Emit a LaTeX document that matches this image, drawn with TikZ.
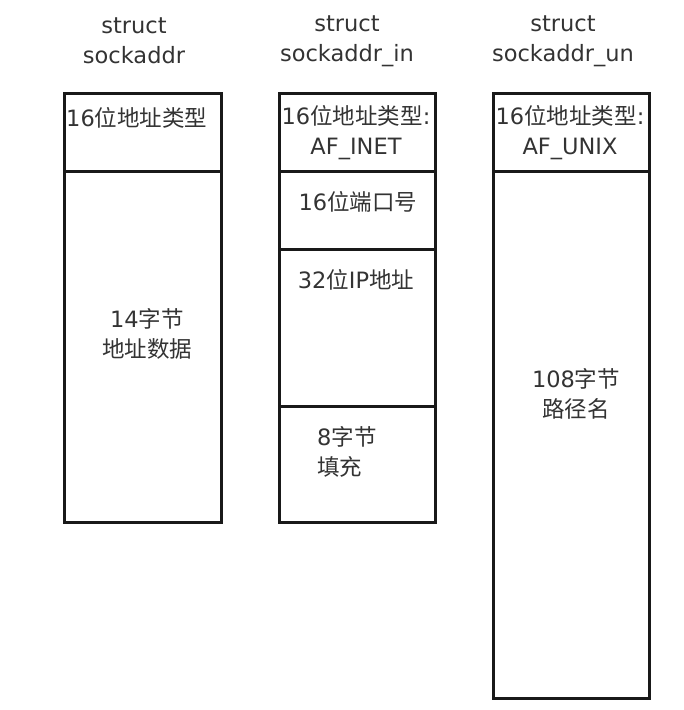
\documentclass[tikz,border=0pt]{standalone}
\usepackage{fontspec}
\setmainfont{DejaVu Sans}
\newfontfamily\cjk{Noto Sans CJK SC}
\begin{document}
\begin{tikzpicture}[x=1pt,y=-1pt,
  cell/.style={draw=black!90, line width=2.6pt, anchor=north west, inner sep=0pt, minimum width=#1},
  txt/.style={font=\fontsize{22.5}{30}\selectfont, text=black!80, inner sep=0pt, align=center},
  txtl/.style={font=\fontsize{22.5}{30}\selectfont, text=black!80, inner sep=0pt, align=left}]
\useasboundingbox (0,0) rectangle (684,710);
% titles
\node[txt] (t1) at (134,41) {struct\\sockaddr};
\node[txt] (t2) at (347,41) {struct\\sockaddr\_in};
\node[txt] (t3) at (563,41) {struct\\sockaddr\_un};
% column 1
\node[cell=157pt, minimum height=78pt] (h1) at (63,92) {};
\node[cell=157pt, minimum height=351pt] (b1) at (63,170) {};
% column 2
\node[cell=156pt, minimum height=78pt] (h2) at (278,92) {};
\node[cell=156pt, minimum height=78pt] (p2) at (278,170) {};
\node[cell=156pt, minimum height=157pt] (a2) at (278,248) {};
\node[cell=156pt, minimum height=116pt] (z2) at (278,405) {};
% column 3
\node[cell=156pt, minimum height=78pt] (h3) at (492,92) {};
\node[cell=156pt, minimum height=527pt] (b3) at (492,170) {};
% labels
\node[txtl, anchor=west] (l1) at (66,118) {16{\cjk 位地址类型}};
\node[txt] (l2) at (356,133) {16{\cjk 位地址类型}:\\AF\_INET};
\node[txt] (l3) at (570,133) {16{\cjk 位地址类型}:\\AF\_UNIX};
\node[txt] (l4) at (358,202) {16{\cjk 位端口号}};
\node[txt] (l5) at (356,280) {32{\cjk 位}IP{\cjk 地址}};
\node[txtl, anchor=west] (l6) at (317,452) {8{\cjk 字节}\\{\cjk 填充}};
\node[txt] (l7) at (147,334) {14{\cjk 字节}\\{\cjk 地址数据}};
\node[txt] (l8) at (576,394) {108{\cjk 字节}\\{\cjk 路径名}};
\end{tikzpicture}
\end{document}
